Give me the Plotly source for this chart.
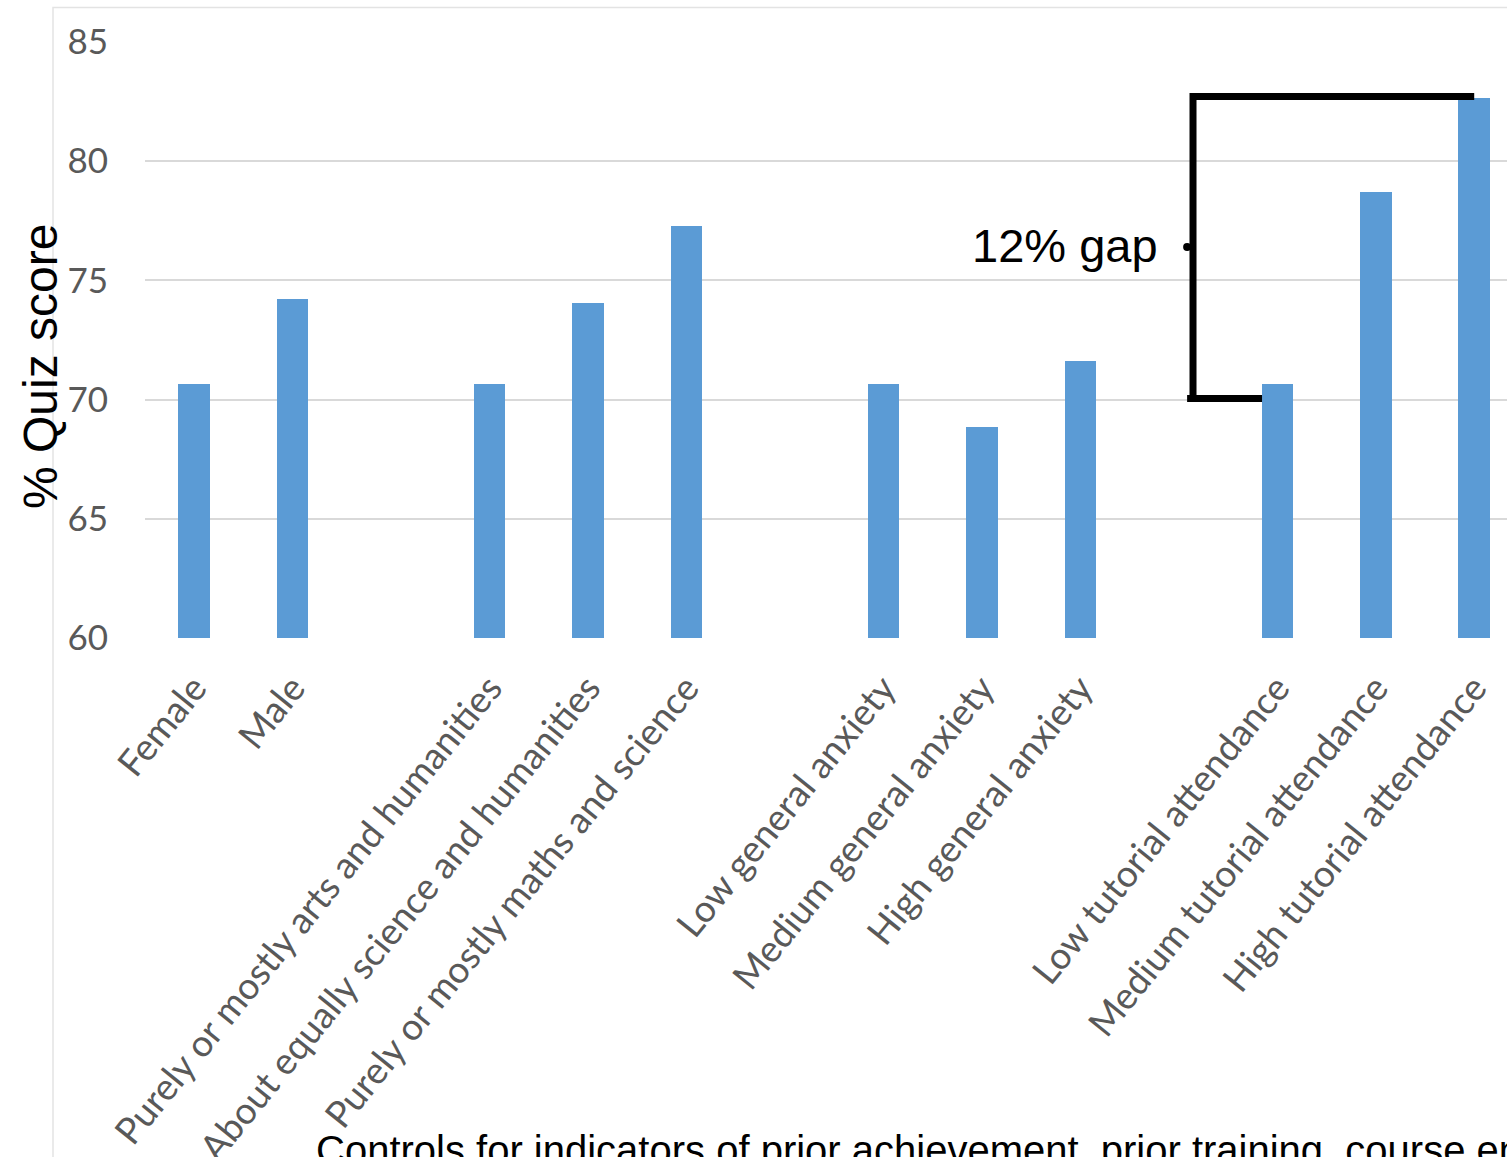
import plotly.graph_objects as go

# Quiz scores by student characteristic, one group per factor
group_labels = [
    ["Female", "Male"],
    ["Purely or mostly arts and humanities",
     "About equally science and humanities",
     "Purely or mostly maths and science"],
    ["Low general anxiety", "Medium general anxiety", "High general anxiety"],
    ["Low tutorial attendance", "Medium tutorial attendance", "High tutorial attendance"],
]
group_scores = [
    [70.65, 74.2],
    [70.65, 74.05, 77.3],
    [70.65, 68.85, 71.6],
    [70.65, 78.7, 82.65],
]
y_ticks = [60, 65, 70, 75, 80, 85]
gap_label = "12% gap"
y_title = "% Quiz score"
footnote = "Controls for indicators of prior achievement, prior training, course enrolment"

# Lay the groups out on one axis with an empty slot between groups
positions, labels, scores = [], [], []
slot = 0
for names, vals in zip(group_labels, group_scores):
    for n, v in zip(names, vals):
        positions.append(slot)
        labels.append(n)
        scores.append(v)
        slot += 1
    slot += 1

BAR = "#5b9bd5"
GRID = "#d9d9d9"
TICK = "#595959"

fig = go.Figure()
fig.add_trace(go.Bar(
    x=positions, y=scores, width=0.32,
    marker=dict(color=BAR, line=dict(width=0)),
    hoverinfo="skip",
))

W, H = 1507, 1157
L, R, T, B = 145, 0, 42, 519
plot_w = W - L - R
plot_h = H - T - B
unit = plot_w / 13.833
x_max = -0.5 + plot_w / unit

fig.update_layout(
    width=W, height=H,
    margin=dict(l=L, r=R, t=T, b=B, pad=0, autoexpand=False),
    paper_bgcolor="white", plot_bgcolor="white",
    showlegend=False,
    bargap=0,
    xaxis=dict(
        range=[-0.5, x_max], automargin=False,
        tickmode="array", tickvals=positions, ticktext=labels,
        tickangle=-51, ticks="", showgrid=False, zeroline=False, showline=False,
        tickfont=dict(family="Lato", size=37, color=TICK),
        ticklabelstandoff=20,
    ),
    yaxis=dict(
        range=[60, 85], automargin=False, tickmode="array", tickvals=y_ticks,
        ticks="", showgrid=True, gridcolor=GRID, gridwidth=1.5,
        zeroline=False, showline=False,
        tickfont=dict(family="Lato", size=35, color=TICK),
        ticklabelstandoff=36,
    ),
)

# Outer chart border (top and left edges visible)
def px_to_paper_x(px):
    return (px - L) / plot_w

def px_to_paper_y(py):
    return (H - B - py) / plot_h

fig.add_shape(type="rect", xref="paper", yref="paper",
              x0=px_to_paper_x(53), x1=px_to_paper_x(1600),
              y0=px_to_paper_y(1300), y1=px_to_paper_y(7.5),
              line=dict(color="#e3e3e3", width=1.5), fillcolor="rgba(0,0,0,0)",
              layer="below")

# Bracket marking the gap between low and high tutorial attendance
low_x = positions[labels.index("Low tutorial attendance")]
high_x = positions[labels.index("High tutorial attendance")]
bracket_x = low_x - 0.856
bracket_low = 70.05
bracket_high = 82.71
fig.add_shape(type="path", xref="x", yref="y",
              path=f"M {bracket_x},{bracket_low} L {bracket_x},{bracket_high} L {high_x},{bracket_high}",
              line=dict(color="black", width=7))
fig.add_shape(type="line", xref="x", yref="y",
              x0=bracket_x - 0.06, x1=low_x - 0.155, y0=bracket_low, y1=bracket_low,
              line=dict(color="black", width=7))
fig.add_trace(go.Scatter(
    x=[bracket_x - 0.06], y=[76.4], mode="markers",
    marker=dict(color="black", size=8), hoverinfo="skip", cliponaxis=False,
))

fig.add_annotation(
    x=px_to_paper_x(1065), y=px_to_paper_y(245), xref="paper", yref="paper",
    text=gap_label, showarrow=False, xanchor="center", yanchor="middle",
    font=dict(family="Liberation Sans, Arial", size=47, color="black"),
)

fig.add_annotation(
    x=px_to_paper_x(40), y=px_to_paper_y(367), xref="paper", yref="paper",
    text=y_title, showarrow=False, textangle=-90,
    xanchor="center", yanchor="middle",
    font=dict(family="Liberation Sans, Arial", size=48, color="black"),
)

fig.add_annotation(
    x=px_to_paper_x(314), y=px_to_paper_y(1126), xref="paper", yref="paper",
    text=footnote, showarrow=False, xanchor="left", yanchor="top",
    font=dict(family="Liberation Sans, Arial", size=40, color="black"),
)

fig.write_html("out.html")
